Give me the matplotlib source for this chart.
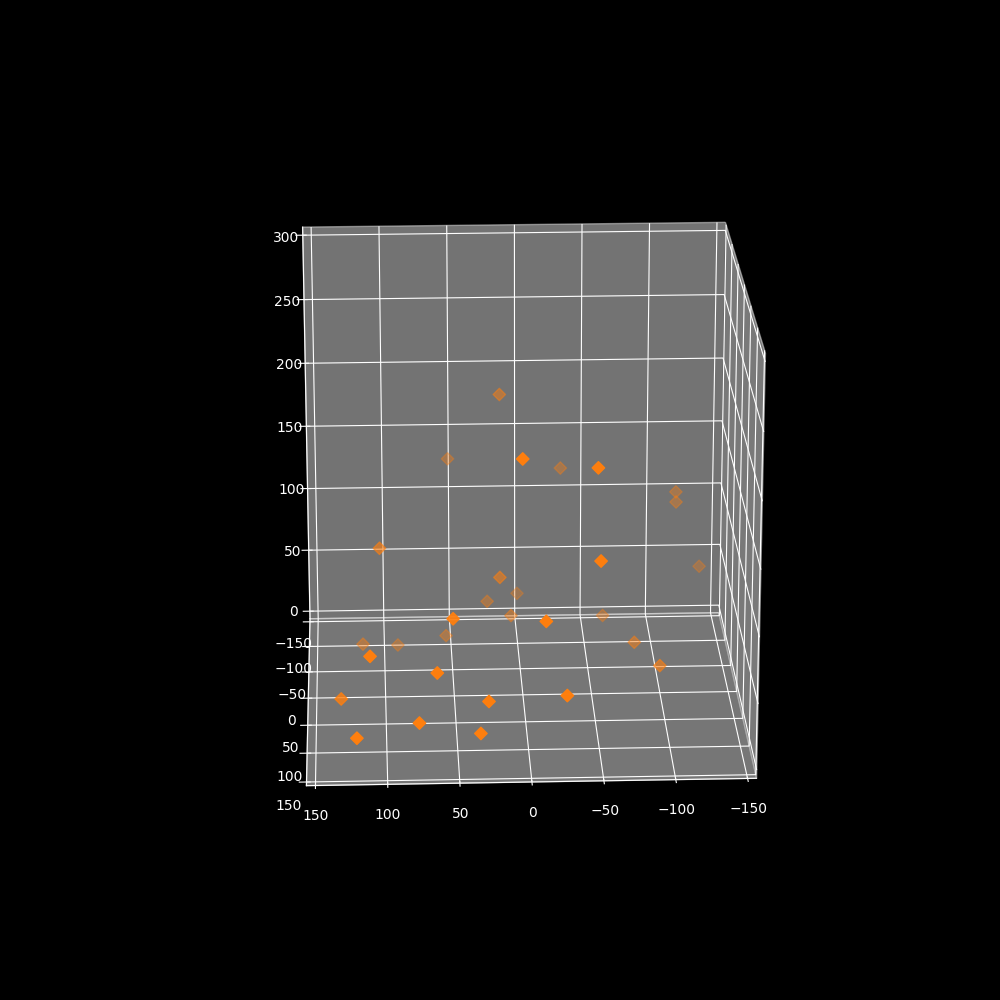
import matplotlib
matplotlib.use('Agg')
import matplotlib.pyplot as plt
import numpy as np

plt.style.use('dark_background')
plt.rcParams['axes3d.automargin'] = True

xs = [2, -51, -52, 52, -13, 111, 64, 28, -27, 77, 121, 34, 132, -100, -84,
      103, 15, 13, 51, -33, -119, -119, 0, 23, -137, 6, -63, 54, 116, 90]
ys = [47, 51, 73, 66, 86, 90, 96, 104, 105, 108, 110, 112, 48, -3, -44,
      -40, -47, -110, -135, -125, -116, -113, -111, -93, -113, -71, -86, -85, -68, -85]
zs = [194, 188, 126, 81, 86, 63, 52, 33, 37, 19, 9, 12, 13, 14, 16,
      95, 68, 189, 130, 125, 108, 101, 30, 31, 49, 28, 21, 7, 8, 0]
xticks = [-150, -100, -50, 0, 50, 100, 150]
yticks = [-150, -100, -50, 0, 50, 100, 150]
zticks = [0, 50, 100, 150, 200, 250, 300]

fig = plt.figure(figsize=(10, 10), dpi=100)
ax = fig.add_subplot(111, projection='3d')
ax.scatter(xs, ys, zs, marker='D', s=40, color='#ff7f0e')
ax.set_xlim(-150, 150)
ax.set_ylim(-150, 150)
ax.set_zlim(0, 300)
ax.set_box_aspect((1.006, 1.006, 1), zoom=0.951)
ax.set_xticks(xticks)
ax.set_yticks(yticks)
ax.set_zticks(zticks)
ax.view_init(elev=20, azim=87.7)
fig.savefig('out.png', dpi=100)
